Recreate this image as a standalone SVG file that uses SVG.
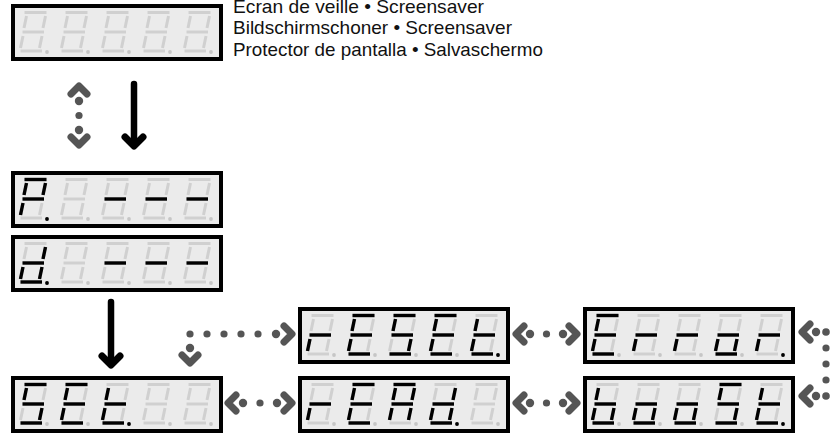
<svg xmlns="http://www.w3.org/2000/svg" width="833" height="435" viewBox="0 0 833 435">
<style>
.off{stroke:#d0d0d0;fill:#c6c6c6;stroke-width:3}
.on{stroke:#000;fill:#000;stroke-width:3.4}
.txt{font-family:"Liberation Sans Narrow","Liberation Sans",Arial,sans-serif;font-size:19px;fill:#111}
.blk{stroke:#000;stroke-width:6.5;fill:none;stroke-linecap:round;stroke-linejoin:round}
.bh{stroke:#000;stroke-width:7;fill:none;stroke-linecap:round;stroke-linejoin:round}
.gh{stroke:#555;stroke-width:7;fill:none;stroke-linecap:round;stroke-linejoin:round}
.gd{fill:#555}
</style>
<defs>
<rect id="frame" x="2" y="2" width="208" height="53" fill="#ebebeb" stroke="#000" stroke-width="4"/>
<path id="sa" d="M13.5 8.5H35.5"/>
<path id="sb" d="M34.5 12L32 24"/>
<path id="sc" d="M31 32L28.5 44"/>
<path id="sd" d="M9.5 47H31"/>
<path id="se" d="M12 32L9.5 44"/>
<path id="sf" d="M15.5 12L13 24"/>
<path id="sg" d="M11.5 28H33"/>
<circle id="dp" cx="36" cy="48" r="1.9" stroke="none"/>
<g id="d8"><use href="#sa"/><use href="#sb"/><use href="#sc"/><use href="#sd"/><use href="#se"/><use href="#sf"/><use href="#sg"/><use href="#dp"/></g>
<g id="row"><use href="#frame"/><use href="#d8" class="off"/><use href="#d8" class="off" x="41"/><use href="#d8" class="off" x="82"/><use href="#d8" class="off" x="123"/><use href="#d8" class="off" x="164"/></g>
<g id="LP"><use href="#sa"/><use href="#sb"/><use href="#sf"/><use href="#sg"/><use href="#se"/></g>
<g id="Ld"><use href="#sb"/><use href="#sc"/><use href="#sd"/><use href="#se"/><use href="#sg"/></g>
<g id="LS"><use href="#sa"/><use href="#sf"/><use href="#sg"/><use href="#sc"/><use href="#sd"/></g>
<g id="LE"><use href="#sa"/><use href="#sf"/><use href="#sg"/><use href="#se"/><use href="#sd"/></g>
<g id="Lt"><use href="#sf"/><use href="#sg"/><use href="#se"/><use href="#sd"/></g>
<g id="Lr"><use href="#sg"/><use href="#se"/></g>
<g id="Lo"><use href="#sg"/><use href="#se"/><use href="#sc"/><use href="#sd"/></g>
<g id="LA"><use href="#sa"/><use href="#sb"/><use href="#sf"/><use href="#sg"/><use href="#se"/><use href="#sc"/></g>
<g id="Lb"><use href="#sf"/><use href="#sg"/><use href="#se"/><use href="#sc"/><use href="#sd"/></g>
</defs>

<g id="caption" class="txt">
<text x="233" y="12.5" textLength="251" lengthAdjust="spacingAndGlyphs">Écran de veille • Screensaver</text>
<text x="233" y="34" textLength="279" lengthAdjust="spacingAndGlyphs">Bildschirmschoner • Screensaver</text>
<text x="233" y="55.5" textLength="310" lengthAdjust="spacingAndGlyphs">Protector de pantalla • Salvaschermo</text>
</g>

<g id="screensaver" transform="translate(11,4)"><use href="#row"/></g>

<g id="disp-P" transform="translate(11,171)"><use href="#row"/>
<g class="on"><use href="#LP"/><use href="#dp"/><use href="#sg" x="82"/><use href="#sg" x="123"/><use href="#sg" x="164"/></g></g>

<g id="disp-d" transform="translate(11,235)"><use href="#row"/>
<g class="on"><use href="#Ld"/><use href="#dp"/><use href="#sg" x="82"/><use href="#sg" x="123"/><use href="#sg" x="164"/></g></g>

<g id="disp-SEt" transform="translate(11,376)"><use href="#row"/>
<g class="on"><use href="#LS"/><use href="#LE" x="41"/><use href="#Lt" x="82"/><use href="#dp" x="82"/></g></g>

<g id="disp-rESEt" transform="translate(298,307)"><use href="#row"/>
<g class="on"><use href="#Lr"/><use href="#LE" x="41"/><use href="#LS" x="82"/><use href="#LE" x="123"/><use href="#Lt" x="164"/><use href="#dp" x="164"/></g></g>

<g id="disp-Error" transform="translate(583,307)"><use href="#row"/>
<g class="on"><use href="#LE"/><use href="#Lr" x="41"/><use href="#Lr" x="82"/><use href="#Lo" x="123"/><use href="#Lr" x="164"/><use href="#dp" x="164"/></g></g>

<g id="disp-rEAd" transform="translate(298,376)"><use href="#row"/>
<g class="on"><use href="#Lr"/><use href="#LE" x="41"/><use href="#LA" x="82"/><use href="#Ld" x="123"/><use href="#dp" x="123"/></g></g>

<g id="disp-boost" transform="translate(583,376)"><use href="#row"/>
<g class="on"><use href="#Lb"/><use href="#Lo" x="41"/><use href="#Lo" x="82"/><use href="#LS" x="123"/><use href="#Lt" x="164"/><use href="#dp" x="164"/></g></g>

<g id="connectors">
<path class="blk" d="M134 84V144"/><path class="bh" d="M125 137L134 146L143 137"/>
<path class="blk" d="M111 302V364"/><path class="bh" d="M102 356L111 365L120 356"/>
<path class="gh" d="M71 94L79 86L87 94"/>
<circle class="gd" cx="79" cy="101" r="4.2"/><circle class="gd" cx="79" cy="115.5" r="3.6"/><circle class="gd" cx="79" cy="130" r="4.2"/>
<path class="gh" d="M71 137L79 145L87 137"/>
<g>
<circle class="gd" cx="190" cy="334" r="3.6"/><circle class="gd" cx="207" cy="334" r="3.6"/><circle class="gd" cx="224" cy="334" r="3.6"/><circle class="gd" cx="241" cy="334" r="3.6"/><circle class="gd" cx="258" cy="334" r="3.6"/><circle class="gd" cx="276" cy="334" r="4.2"/>
<path class="gh" d="M284 326L292 334L284 342"/>
<circle class="gd" cx="190" cy="348" r="4.2"/>
<path class="gh" d="M182 355L190 363L198 355"/>
</g>
<g>
<path class="gh" d="M236 395L228 403L236 411"/>
<circle class="gd" cx="243" cy="403" r="4.2"/><circle class="gd" cx="260" cy="403" r="3.6"/><circle class="gd" cx="277" cy="403" r="4.2"/>
<path class="gh" d="M284 395L292 403L284 411"/>
</g>
<g>
<path class="gh" d="M524 395L516 403L524 411"/>
<circle class="gd" cx="530" cy="403" r="4.2"/><circle class="gd" cx="546.5" cy="403" r="3.6"/><circle class="gd" cx="563" cy="403" r="4.2"/>
<path class="gh" d="M569 395L577 403L569 411"/>
</g>
<g>
<path class="gh" d="M524 326L516 334L524 342"/>
<circle class="gd" cx="530" cy="334" r="4.2"/><circle class="gd" cx="546.5" cy="334" r="3.6"/><circle class="gd" cx="563" cy="334" r="4.2"/>
<path class="gh" d="M569 326L577 334L569 342"/>
</g>
<g>
<path class="gh" d="M810 324L802 332L810 340"/>
<circle class="gd" cx="816" cy="332" r="4.2"/><circle class="gd" cx="826" cy="332" r="3.8"/>
<circle class="gd" cx="826" cy="348" r="3.6"/><circle class="gd" cx="826" cy="364" r="3.6"/><circle class="gd" cx="826" cy="380" r="3.6"/>
<circle class="gd" cx="826" cy="396" r="3.8"/><circle class="gd" cx="816" cy="396" r="4.2"/>
<path class="gh" d="M810 388L802 396L810 404"/>
</g>
</g>
</svg>
